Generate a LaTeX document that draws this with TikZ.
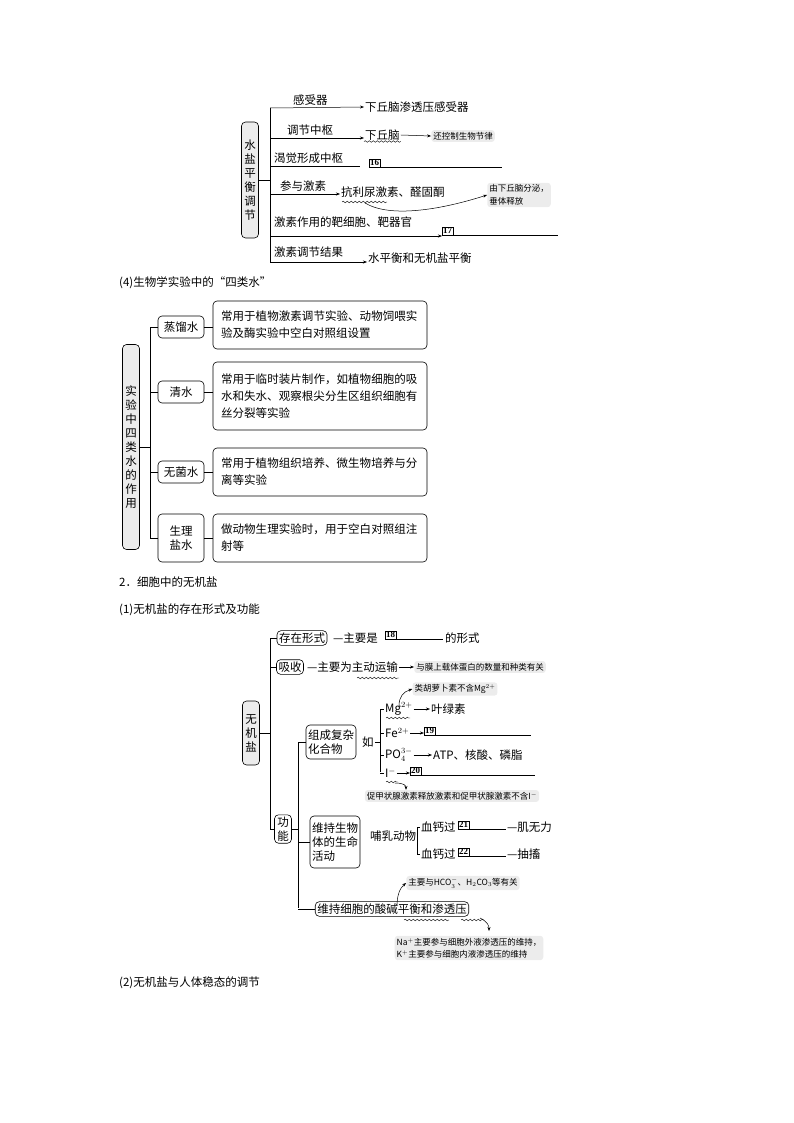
\documentclass[tikz,border=0pt]{standalone}
\usepackage{fontspec}
\setmainfont{Liberation Serif}
\newfontfamily\cjk{Noto Sans CJK SC}
\XeTeXlinebreaklocale "zh"
\XeTeXlinebreakskip=0pt plus 1pt
\usetikzlibrary{decorations.pathmorphing,arrows.meta}
\begin{document}
\begin{tikzpicture}[x=1pt,y=-1pt,font=\cjk\fontsize{11.5}{14}\selectfont,
 bx/.style={draw,rounded corners=4pt,line width=0.6pt,inner sep=2pt,align=left},
 vbx/.style={draw,rounded corners=4pt,line width=0.6pt,fill=gray!15,align=center,inner sep=2pt,text width=13pt},
 note/.style={fill=gray!15,rounded corners=3pt,inner sep=2pt,font=\cjk\fontsize{8.5}{12.5}\selectfont,align=left},
 tx/.style={inner sep=1pt,anchor=west},
 num/.style={draw,inner sep=0.8pt,font=\fontsize{9}{9}\selectfont\bfseries,anchor=west},
 ar/.style={-{Stealth[length=4pt]},line width=0.5pt},
 ln/.style={line width=0.5pt},
 wv/.style={decorate,decoration={snake,amplitude=0.8pt,segment length=4pt},line width=0.4pt}]
\useasboundingbox (0,0) rectangle (794,1123);
% ---------- top
\node[vbx,minimum height=116pt] (sy) at (250,180) {水\\盐\\平\\衡\\调\\节};
\coordinate (t0) at (270,108); \coordinate (t6) at (270,262);
\draw[ln] (sy.east) -- (270,180);
\draw[ln] (t0) -- (t6);
\node[tx] (l1) at (292,100) {感受器};
\node[tx] (r1) at (364,107) {下丘脑渗透压感受器};
\draw[ar] (t0) -- (r1.west);
\node[tx] (l2) at (286,130) {调节中枢};
\node[tx] (r2) at (364,135) {下丘脑};
\coordinate (t2) at (270,138);
\draw[ar] (t2) -- (r2.west|-t2);
\draw[wv] (r2.south west) -- (r2.south east);
\node[note] (n1) at (463,136) {还控制生物节律};
\draw[ar] (r2.east) -- (n1.west);
\node[tx] (l3) at (273,158) {渴觉形成中枢};
\coordinate (t3) at (270,166);
\draw[ln] (t3) -- (360,166);
\node[num] (b16) at (369,163) {16};
\draw[ln] (b16.south west) -- ++(133,0);
\node[tx] (l4) at (279,186) {参与激素};
\coordinate (t4) at (270,194);
\node[tx] (r4) at (340,192) {抗利尿激素、醛固酮};
\draw[ar] (t4) -- (r4.west|-t4);
\draw[wv] (342,202) -- (387,202);
\node[note] (n2) at (519,195) {由下丘脑分泌，\\垂体释放};
\draw[ar] (365,203) .. controls (390,218) and (440,210) .. (n2.west);
\node[tx] (l5) at (273,222) {激素作用的靶细胞、靶器官};
\coordinate (t5) at (270,236);
\node[num] (b17) at (442,231) {17};
\draw[ar] (t5) -- (b17.west|-t5);
\draw[ln] (b17.south west) -- ++(116,0);
\node[tx] (l6) at (273,252) {激素调节结果};
\node[tx] (r6) at (367,258) {水平衡和无机盐平衡};
\draw[ar] (t6) -- (r6.west|-t6);
\node[tx] (h4) at (118,283) {(4)生物学实验中的“四类水”};
% ---------- middle
\node[vbx,minimum height=205pt] (sl) at (131,447) {实\\验\\中\\四\\类\\水\\的\\作\\用};
\draw[ln] (sl.east) -- (150,447);
\draw[ln] (150,327) -- (150,538);
\node[bx,minimum width=46pt,minimum height=22pt,align=center] (a1) at (181,327) {蒸馏水};
\node[bx,minimum width=46pt,minimum height=22pt,align=center] (a2) at (181,392) {清水};
\node[bx,minimum width=46pt,minimum height=22pt,align=center] (a3) at (181,472) {无菌水};
\node[bx,minimum width=46pt,minimum height=48pt,align=center] (a4) at (181,538) {生理\\盐水};
\foreach \i in {1,...,4} \draw[ln] (150,0|-a\i) -- (a\i.west);
\tikzset{cb/.style={bx,text width=198pt,inner sep=4pt,inner xsep=8pt,font=\cjk\fontsize{11.5}{17}\selectfont}}
\node[cb,minimum height=48pt] (c1) at (320,325) {常用于植物激素调节实验、动物饲喂实验及酶实验中空白对照组设置};
\node[cb,minimum height=68pt] (c2) at (320,396) {常用于临时装片制作，如植物细胞的吸水和失水、观察根尖分生区组织细胞有丝分裂等实验};
\node[cb,minimum height=48pt] (c3) at (320,472) {常用于植物组织培养、微生物培养与分离等实验};
\node[cb,minimum height=48pt] (c4) at (320,538) {做动物生理实验时，用于空白对照组注射等};
\foreach \i in {1,...,4} \draw[ln] (a\i.east) -- (c\i.west|-a\i);
\node[tx] (h2) at (118,582) {2．细胞中的无机盐};
\node[tx] (h21) at (118,610) {(1)无机盐的存在形式及功能};
% ---------- bottom
\node[vbx,minimum height=64pt] (wj) at (251,733) {无\\机\\盐};
\draw[ln] (wj.east) -- (270,733);
\draw[ln] (270,638) -- (270,829);
\node[bx] (e1) at (302,638) {存在形式};
\node[bx] (e2) at (290,667) {吸收};
\node[bx,text width=13pt,align=center] (e3) at (283,829) {功\\能};
\foreach \i in {1,2,3} \draw[ln] (270,0|-e\i) -- (e\i.west);
\node[tx] (s1) at (332,638) {—主要是};
\node[num] (b18) at (385,635) {18};
\draw[ln] (b18.south west) -- ++(58,0);
\node[tx] (s1b) at (444,638) {的形式};
\node[tx] (s2) at (306,667) {—主要为主动运输};
\draw[wv] (357,678) -- (399,678);
\node[note] (n3) at (480,667) {与膜上载体蛋白的数量和种类有关};
\draw[ar] (s2.east) -- (n3.west);
\draw[ln] (e3.east) -- (298,829);
\draw[ln] (298,742) -- (298,908);
\node[bx,minimum height=34pt] (f1) at (331,742) {组成复杂\\化合物};
\node[bx,minimum height=52pt] (f2) at (335,842) {维持生物\\体的生命\\活动};
\node[bx] (f3) at (392,909) {维持细胞的酸碱平衡和渗透压};
\foreach \i in {1,2,3} \draw[ln] (298,0|-f\i) -- (f\i.west);
\draw[wv] (404,920) -- (449,920);
\draw[wv] (461,920) -- (484,920);
\node[tx] (ru) at (361,742) {如};
\draw[ln] (ru.east) -- (380,742);
\draw[ln] (380,709) -- (380,772);
\node[tx] (m1) at (384,709) {Mg$^{2+}$};
\node[tx] (m2) at (384,733) {Fe$^{2+}$};
\node[tx] (m3) at (384,755) {PO$_4^{3-}$};
\node[tx] (m4) at (384,773) {I$^-$};
\foreach \i in {1,...,4} \draw[ln] (380,0|-m\i) -- (m\i.west);
\draw[wv] (386,718) -- (410,718);
\node[tx] (k1) at (430,709) {叶绿素};
\draw[ar] (m1.east) -- (k1.west);
\node[num] (b19) at (424,731) {19};
\draw[ar] (m2.east) -- (b19.west|-m2);
\draw[ln] (b19.south west) -- ++(107,0);
\node[tx] (k3) at (432,755) {ATP、核酸、磷脂};
\draw[ar] (m3.east) -- (k3.west);
\node[num] (b20) at (410,771) {20};
\draw[ar] (m4.east) -- (b20.west|-m4);
\draw[ln] (b20.south west) -- ++(125,0);
\node[note] (n4) at (455,689) {类胡萝卜素不含Mg$^{2+}$};
\draw[ar] (399,706) .. controls (399,697) and (403,692) .. (n4.west);
\node[note] (n5) at (452,796) {促甲状腺激素释放激素和促甲状腺激素不含I$^-$};
\draw[wv] (386,782) -- (398,782);
\draw[ar] (395,783) .. controls (405,783) and (406,786) .. (n5.north-|406,0);
\node[tx] (bm) at (369,836) {哺乳动物};
\draw[ln] (bm.east) -- (417,836);
\draw[ln] (417,827) -- (417,854);
\node[tx] (x1) at (420,827) {血钙过};
\node[tx] (x2) at (420,854) {血钙过};
\draw[ln] (417,827) -- (x1.west); \draw[ln] (417,854) -- (x2.west);
\node[num] (b21) at (458,825) {21};
\draw[ln] (b21.south west) -- ++(48,0);
\node[tx] (y1) at (506,827) {—肌无力};
\node[num] (b22) at (458,852) {22};
\draw[ln] (b22.south west) -- ++(48,0);
\node[tx] (y2) at (506,854) {—抽搐};
\node[note] (n6) at (463,883) {主要与HCO$_3^-$、H$_2$CO$_3$等有关};
\draw[ar] (397,906) .. controls (397,895) and (400,888) .. (n6.west);
\node[note] (n7) at (469,948) {Na$^+$主要参与细胞外液渗透压的维持，\\K$^+$主要参与细胞内液渗透压的维持};
\draw[ar] (480,918) .. controls (488,922) and (489,926) .. (489,931);
\node[tx] (h22) at (118,983) {(2)无机盐与人体稳态的调节};
\end{tikzpicture}
\end{document}
